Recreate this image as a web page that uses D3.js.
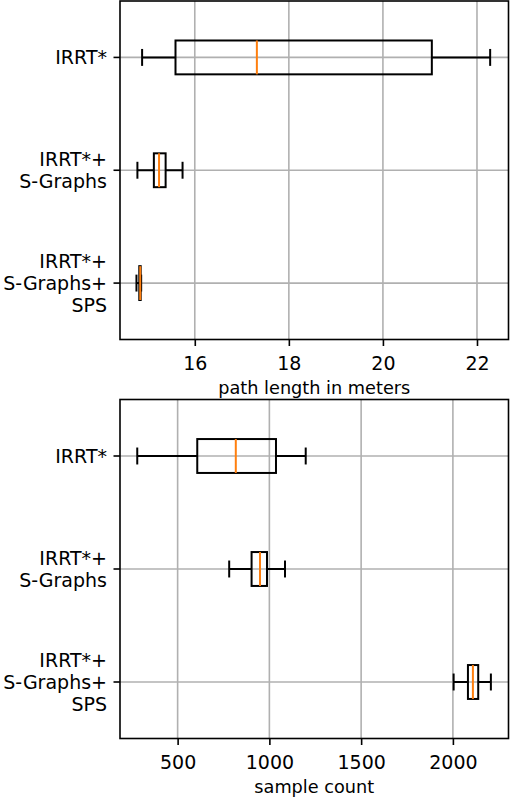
<!DOCTYPE html>
<html>
<head>
<meta charset="utf-8">
<script src="https://cdn.jsdelivr.net/npm/d3@7"></script>
<style>
  body { margin: 0; background: #fff; }
  svg { display: block; }
  text { font-family: "DejaVu Sans", sans-serif; fill: #000; }
</style>
</head>
<body>
<script>
var w = 510;
var h = 798;

// DATA
var categories = ["IRRT*", "IRRT*+\nS-Graphs", "IRRT*+\nS-Graphs+\nSPS"];
// [whisker low, q1, median, q3, whisker high]
var pathLength = [
  [14.88, 15.59, 17.32, 21.04, 22.28],
  [14.78, 15.13, 15.24, 15.38, 15.74],
  [14.76, 14.82, 14.84, 14.85, 14.86]
];
var sampleCount = [
  [280, 607, 817, 1036, 1198],
  [781, 903, 949, 987, 1085],
  [2004, 2082, 2109, 2138, 2207]
];
var pathTicks = [16, 18, 20, 22];
var sampleTicks = [500, 1000, 1500, 2000];

var svg = d3.select("body").append("svg")
  .attr("width", w)
  .attr("height", h);

// STYLE
var px = 2;                // box line width
var lineW = 1.6;           // frame, ticks, grid
var tickLen = 6.5;
var gridColor = "#b0b0b0";
var medianColor = "#ff7f0e";
var fontSize = 19;

function drawPanel(opts) {
  var left = 120, right = 508.5;
  var top = opts.top, bottom = opts.bottom;

  var x = d3.scaleLinear().domain(opts.domain).range([left, right]);
  var y = d3.scaleBand().domain(categories).range([top, bottom]).padding(0);
  var bw = y.bandwidth();

  var g = svg.append("g");

  // grid
  g.append("g").selectAll("line")
    .data(opts.ticks)
    .enter().append("line")
    .attr("x1", function(d) { return x(d); })
    .attr("x2", function(d) { return x(d); })
    .attr("y1", top)
    .attr("y2", bottom)
    .attr("stroke", gridColor)
    .attr("stroke-width", lineW);

  g.append("g").selectAll("line")
    .data(categories)
    .enter().append("line")
    .attr("x1", left)
    .attr("x2", right)
    .attr("y1", function(d) { return y(d) + bw / 2; })
    .attr("y2", function(d) { return y(d) + bw / 2; })
    .attr("stroke", gridColor)
    .attr("stroke-width", lineW);

  // boxes
  var boxes = g.append("g").selectAll("g")
    .data(opts.data)
    .enter().append("g")
    .attr("transform", function(d, i) { return "translate(0," + (y(categories[i]) + bw / 2) + ")"; });

  var bh = bw * 0.3, ch = bw * 0.15;

  boxes.append("line")
    .attr("x1", function(d) { return x(d[0]); })
    .attr("x2", function(d) { return x(d[1]); })
    .attr("stroke", "#000").attr("stroke-width", px);
  boxes.append("line")
    .attr("x1", function(d) { return x(d[3]); })
    .attr("x2", function(d) { return x(d[4]); })
    .attr("stroke", "#000").attr("stroke-width", px);
  boxes.append("line")
    .attr("x1", function(d) { return x(d[0]); })
    .attr("x2", function(d) { return x(d[0]); })
    .attr("y1", -ch / 2).attr("y2", ch / 2)
    .attr("stroke", "#000").attr("stroke-width", px);
  boxes.append("line")
    .attr("x1", function(d) { return x(d[4]); })
    .attr("x2", function(d) { return x(d[4]); })
    .attr("y1", -ch / 2).attr("y2", ch / 2)
    .attr("stroke", "#000").attr("stroke-width", px);
  boxes.append("rect")
    .attr("x", function(d) { return x(d[1]); })
    .attr("width", function(d) { return x(d[3]) - x(d[1]); })
    .attr("y", -bh / 2)
    .attr("height", bh)
    .attr("fill", "none")
    .attr("stroke", "#000").attr("stroke-width", px);
  boxes.append("line")
    .attr("x1", function(d) { return x(d[2]); })
    .attr("x2", function(d) { return x(d[2]); })
    .attr("y1", -bh / 2).attr("y2", bh / 2)
    .attr("stroke", medianColor).attr("stroke-width", px);

  // axes
  var xAxis = g.append("g")
    .attr("transform", "translate(0," + bottom + ")")
    .call(d3.axisBottom(x).tickValues(opts.ticks).tickSize(tickLen).tickFormat(d3.format("d")));
  xAxis.select(".domain").remove();
  xAxis.selectAll("line").attr("stroke", "#000").attr("stroke-width", lineW);
  xAxis.selectAll("text")
    .attr("font-size", fontSize)
    .attr("font-family", "DejaVu Sans")
    .attr("dy", null)
    .attr("y", 30);

  var yAxis = g.append("g")
    .attr("transform", "translate(" + left + ",0)")
    .call(d3.axisLeft(y).tickSize(tickLen));
  yAxis.select(".domain").remove();
  yAxis.selectAll("line").attr("stroke", "#000").attr("stroke-width", lineW);
  yAxis.selectAll("text").each(function(d) {
    var t = d3.select(this);
    var lines = d.split("\n");
    var lh = 21.7;
    t.text(null)
      .attr("font-size", fontSize)
      .attr("font-family", "DejaVu Sans")
      .attr("dy", null)
      .attr("y", 0);
    lines.forEach(function(s, i) {
      t.append("tspan")
        .attr("x", -(tickLen + 6.5))
        .attr("y", (i - (lines.length - 1) / 2) * lh + 6.8)
        .text(s);
    });
  });

  // frame
  g.append("rect")
    .attr("x", left).attr("y", top)
    .attr("width", right - left).attr("height", bottom - top)
    .attr("fill", "none")
    .attr("stroke", "#000")
    .attr("stroke-width", lineW);

  // axis title
  g.append("text")
    .attr("x", (left + right) / 2)
    .attr("y", bottom + 54.5)
    .attr("text-anchor", "middle")
    .attr("font-size", 17.7)
    .text(opts.title);
}

drawPanel({
  top: 1, bottom: 339.5,
  domain: [14.41, 22.67],
  ticks: pathTicks,
  data: pathLength,
  title: "path length in meters"
});

drawPanel({
  top: 399.5, bottom: 738.5,
  domain: [186, 2303],
  ticks: sampleTicks,
  data: sampleCount,
  title: "sample count"
});
</script>
</body>
</html>
